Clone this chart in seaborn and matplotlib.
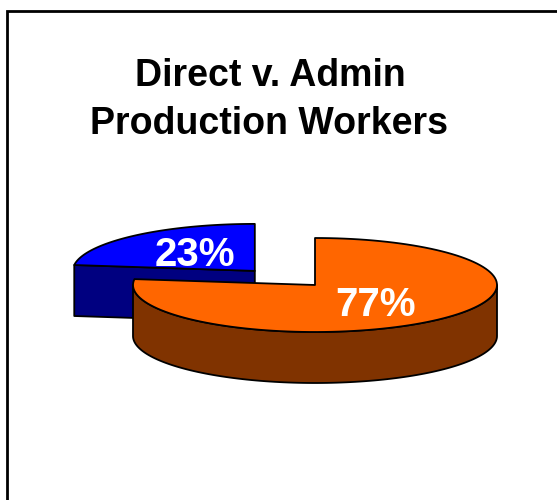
"""
3D-style exploded pie: direct vs admin production workers.
"""

import numpy as np
import matplotlib
matplotlib.use("Agg")
import matplotlib.pyplot as plt
from matplotlib.patches import Polygon
import seaborn as sns

# data
categories = ["Direct", "Admin"]
shares = [77, 23]
labels = ["77%", "23%"]
top_colors = ["#FF6600", "#0000FF"]
side_colors = ["#803300", "#000080"]
explode = [0.0, 0.5]

sns.set_theme(style="white")
plt.rcParams["font.family"] = ["Liberation Sans", "DejaVu Sans"]

fig = plt.figure(figsize=(5.57, 5.0), dpi=100)
ax = fig.add_axes([0, 0, 1, 1])
ax.set_xlim(0, 557)
ax.set_ylim(500, 0)
ax.axis("off")

# frame (left + top border only visible)
ax.plot([6.5, 6.5, 557], [500, 10.5, 10.5], color="black", lw=2.0, solid_joinstyle="miter")

# pie layout (ellipse in screen units)
cx, cy, rx, ry, depth = 315, 285, 182, 47, 51


def pt(theta, ox, oy, dz=0.0):
    t = np.radians(theta)
    return ox + rx * np.sin(t), oy - ry * np.cos(t) + dz


def arc(a, b, ox, oy, dz=0.0, n=120):
    th = np.linspace(a, b, n)
    xs, ys = pt(th, ox, oy, dz)
    return np.column_stack([xs, ys])


fracs = np.array(shares) / sum(shares)
ends = np.cumsum(fracs) * 360
starts = ends - fracs * 360

slices = []
for i in range(len(shares)):
    mid = (starts[i] + ends[i]) / 2
    ox = cx + explode[i] * rx * np.sin(np.radians(mid))
    oy = cy - explode[i] * 0.8 * ry * np.cos(np.radians(mid))
    slices.append((oy, i, ox, mid))

# back slices first
for z, (oy, i, ox, mid) in enumerate(sorted(slices)):
    a, b = starts[i], ends[i]
    kw = dict(edgecolor="black", lw=1.3, joinstyle="round")
    # radial cut faces
    for th, sign in ((a, -1), (b, 1)):
        if sign * np.sin(np.radians(th)) > 1e-6:
            px, py = pt(th, ox, oy)
            face = [(ox, oy), (px, py), (px, py + depth), (ox, oy + depth)]
            ax.add_patch(Polygon(face, closed=True, facecolor=side_colors[i], zorder=3 * z + 1, **kw))
    # outer wall (front half only)
    lo, hi = max(a, 90), min(b, 270)
    if hi > lo:
        wall = np.vstack([arc(lo, hi, ox, oy), arc(hi, lo, ox, oy, depth)])
        ax.add_patch(Polygon(wall, closed=True, facecolor=side_colors[i], zorder=3 * z + 1, **kw))
    # top face
    top = np.vstack([[ox, oy], arc(a, b, ox, oy)])
    ax.add_patch(Polygon(top, closed=True, facecolor=top_colors[i], zorder=3 * z + 2, **kw))
    # percentage label
    lx, ly = ox + 0.5 * rx * np.sin(np.radians(mid)), oy - 0.5 * ry * np.cos(np.radians(mid))
    ax.text(lx, ly + 2, labels[i], color="white", fontsize=29, fontweight="bold",
            ha="center", va="center", zorder=10)

# title
ax.text(270, 76, "Direct v. Admin", fontsize=27, fontweight="bold", color="black",
        ha="center", va="center")
ax.text(269, 124, "Production Workers", fontsize=27, fontweight="bold", color="black",
        ha="center", va="center")

fig.savefig("out.png", dpi=100)
